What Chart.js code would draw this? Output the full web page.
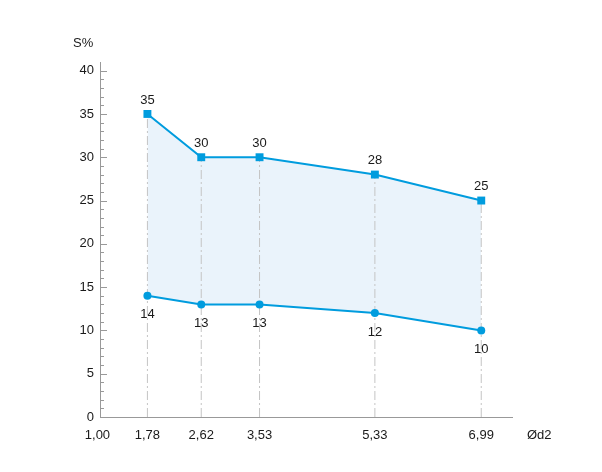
<!DOCTYPE html>
<html>
<head>
<meta charset="utf-8">
<script src="https://cdn.jsdelivr.net/npm/chart.js@4/dist/chart.umd.min.js"></script>
<style>
  html, body { margin: 0; padding: 0; background: #fff; }
  #wrap { position: relative; width: 602px; height: 472px; }
</style>
</head>
<body>
<div id="wrap"><canvas id="chart"></canvas></div>
<script>
// values
var diameters = [1.78, 2.62, 3.53, 5.33, 6.99];
var upperS = [35, 30, 30, 28, 25];
var lowerS = [14, 13, 13, 12, 10];
var xTicks = [1.00, 1.78, 2.62, 3.53, 5.33, 6.99];

var blue = 'rgb(0, 156, 222)';
var fillBlue = 'rgb(234, 243, 251)';
var font = '"Liberation Sans", Arial, sans-serif';

function pts(ys) {
    return diameters.map(function (d, i) { return { x: d, y: ys[i] }; });
}

var datasets = [{
    data: pts(upperS),
    borderColor: blue,
    backgroundColor: fillBlue,
    pointBackgroundColor: blue,
    pointBorderColor: blue,
    borderWidth: 2,
    pointStyle: 'rect',
    pointRadius: 5.6,
    pointBorderWidth: 0,
    fill: { target: 1 },
    order: 1
}, {
    data: pts(lowerS),
    borderColor: blue,
    backgroundColor: blue,
    borderWidth: 2,
    pointStyle: 'circle',
    pointRadius: 4,
    pointBorderWidth: 0,
    fill: false,
    order: 1
}];

// dash-dot guide from axis up to each upper point
diameters.forEach(function (d, i) {
    datasets.push({
        data: [{ x: d, y: 0 }, { x: d, y: upperS[i] }],
        borderColor: '#c4c4c4',
        borderWidth: 1,
        borderDash: [9, 3, 2, 3],
        pointRadius: 0,
        fill: false,
        order: 5
    });
});

var labelsPlugin = {
    id: 'pointLabels',
    afterDatasetsDraw: function (chart) {
        var ctx = chart.ctx;
        ctx.save();
        ctx.font = '13px ' + font;
        ctx.fillStyle = '#1a1a1a';
        ctx.textAlign = 'center';
        ctx.textBaseline = 'middle';
        chart.getDatasetMeta(0).data.forEach(function (p, i) {
            ctx.fillText(upperS[i], p.x, p.y - 14);
        });
        chart.getDatasetMeta(1).data.forEach(function (p, i) {
            ctx.fillText(lowerS[i], p.x, p.y + 19);
        });
        ctx.restore();
    }
};

var axisExtras = {
    id: 'axisExtras',
    afterDraw: function (chart) {
        var ctx = chart.ctx;
        var y = chart.scales.y;
        var x = chart.scales.x;
        ctx.save();
        ctx.strokeStyle = '#999';
        ctx.lineWidth = 1;
        y.ticks.forEach(function (t) {
            var py = Math.round(y.getPixelForValue(t.value)) + 0.5;
            var len = t.value % 5 === 0 ? 7 : 4;
            ctx.beginPath();
            ctx.moveTo(y.right, py);
            ctx.lineTo(y.right + len, py);
            ctx.stroke();
        });
        ctx.font = '13px ' + font;
        ctx.fillStyle = '#1a1a1a';
        ctx.textBaseline = 'middle';
        ctx.textAlign = 'left';
        ctx.fillText('S%', 73, 43);
        ctx.fillText('Ød2', x.right + 15, 435);
        ctx.restore();
    }
};

new Chart(document.getElementById('chart'), {
    type: 'line',
    data: { datasets: datasets },
    plugins: [labelsPlugin, axisExtras],
    options: {
        responsive: true,
        maintainAspectRatio: false,
        animation: false,
        layout: { padding: { left: 0, top: 62, right: 90, bottom: 0 } },
        plugins: {
            legend: { display: false },
            tooltip: { enabled: false },
            filler: { drawTime: 'beforeDatasetsDraw' }
        },
        scales: {
            x: {
                type: 'linear',
                min: 1.04,
                max: 7.47,
                afterBuildTicks: function (scale) {
                    scale.ticks = xTicks.map(function (v) { return { value: v }; });
                },
                afterFit: function (scale) { scale.height = 55; },
                grid: { display: false, drawTicks: false },
                border: { color: '#999', width: 1 },
                ticks: {
                    padding: 11,
                    autoSkip: false,
                    maxRotation: 0,
                    color: '#1a1a1a',
                    font: { family: font, size: 13 },
                    callback: function (v) { return Number(v).toFixed(2).replace('.', ','); }
                }
            },
            y: {
                min: 0,
                max: 41,
                afterBuildTicks: function (scale) {
                    var t = [];
                    for (var v = 0; v <= 40; v++) t.push({ value: v });
                    scale.ticks = t;
                },
                afterFit: function (scale) { scale.width = 100; },
                grid: { display: false, drawTicks: false },
                border: { color: '#999', width: 1 },
                ticks: {
                    padding: 6,
                    autoSkip: false,
                    color: '#1a1a1a',
                    font: { family: font, size: 13 },
                    callback: function (v) { return v % 5 === 0 ? v : ''; }
                }
            }
        }
    }
});
</script>
</body>
</html>
